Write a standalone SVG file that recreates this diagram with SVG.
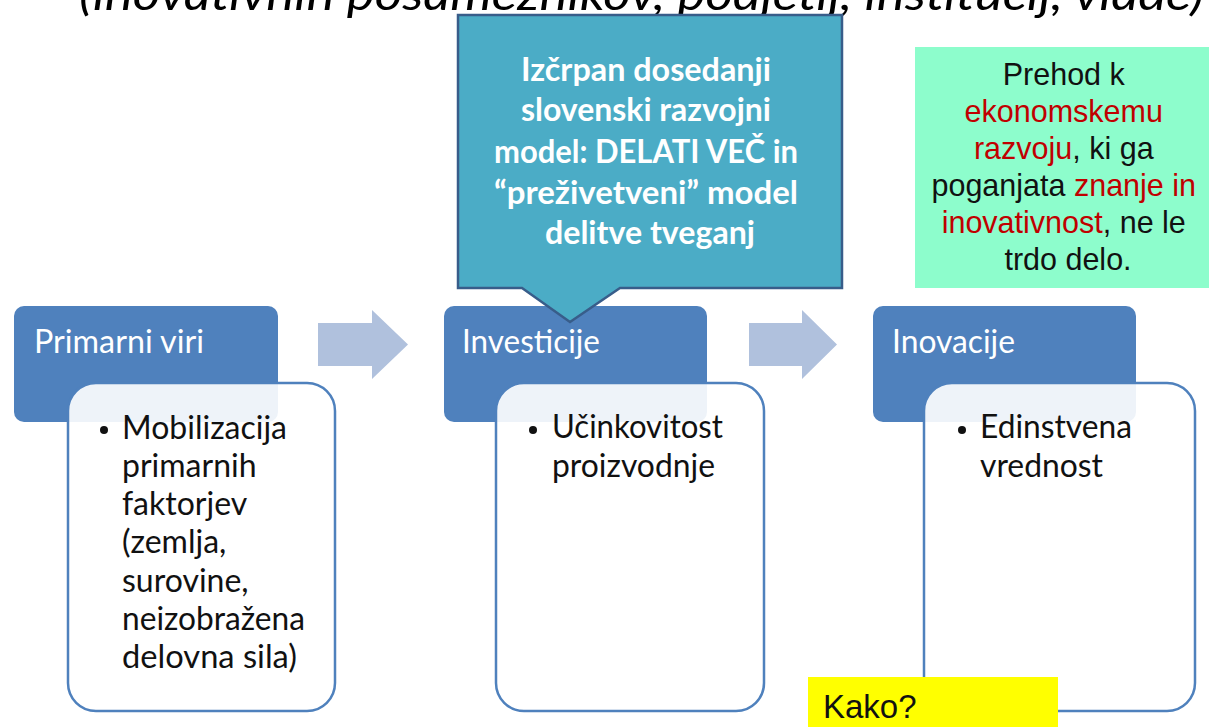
<svg xmlns="http://www.w3.org/2000/svg" width="1209" height="727" viewBox="0 0 1209 727">
<style>
.hdr{fill:#4F81BD}
.inner{fill:#FFFFFF;fill-opacity:0.9;stroke:#4F81BD;stroke-width:2.5}
.htxt{font-family:Lato,"Liberation Sans",sans-serif;font-size:32px;fill:#FFFFFF}
.btxt{font-family:Lato,"Liberation Sans",sans-serif;font-size:32px;fill:#111111}
.ctxt{font-family:Lato,"Liberation Sans",sans-serif;font-size:33px;font-weight:bold;fill:#FFFFFF;text-anchor:middle}
.gtxt{font-family:"Liberation Sans",Arial,sans-serif;font-size:30.5px;fill:#111111;text-anchor:middle}
.red{fill:#C00000}
.arrow{fill:#B0C1DD}
</style>
<rect width="1209" height="727" fill="#FFFFFF"/>
<text x="79" y="10" font-family="Lato,'Liberation Sans',sans-serif" font-size="44" font-style="italic" fill="#000000" textLength="1125" lengthAdjust="spacingAndGlyphs">(inovativnih posameznikov, podjetij, institucij, vlade)</text>

<g id="connectors">
<path class="arrow" d="M318,323 H372 V310 L408,344.5 L372,379 V366 H318 Z"/>
<path class="arrow" d="M749,323 H802 V310 L837,344.5 L802,379 V366 H749 Z"/>
</g>

<g id="node-primarni">
<rect class="hdr" x="14" y="306" width="264" height="116" rx="10"/>
<text class="htxt" x="34" y="353" textLength="170" lengthAdjust="spacingAndGlyphs">Primarni viri</text>
<rect class="inner" x="68" y="383" width="267" height="328" rx="28"/>
<circle cx="104" cy="430" r="4" fill="#111111"/>
<text class="btxt">
<tspan x="122" y="439" textLength="165" lengthAdjust="spacingAndGlyphs">Mobilizacija</tspan>
<tspan x="122" y="477">primarnih</tspan>
<tspan x="122" y="515">faktorjev</tspan>
<tspan x="122" y="553">(zemlja,</tspan>
<tspan x="122" y="592">surovine,</tspan>
<tspan x="122" y="630" textLength="183" lengthAdjust="spacingAndGlyphs">neizobražena</tspan>
<tspan x="122" y="668" textLength="175" lengthAdjust="spacingAndGlyphs">delovna sila)</tspan>
</text>
</g>

<g id="node-investicije">
<rect class="hdr" x="444" y="306" width="263" height="116" rx="10"/>
<text class="htxt" x="462" y="353" textLength="138" lengthAdjust="spacingAndGlyphs">Investicije</text>
<rect class="inner" x="496" y="383" width="268" height="328" rx="28"/>
<circle cx="533" cy="430" r="4" fill="#111111"/>
<text class="btxt">
<tspan x="552" y="438" textLength="171" lengthAdjust="spacingAndGlyphs">Učinkovitost</tspan>
<tspan x="552" y="477" textLength="163" lengthAdjust="spacingAndGlyphs">proizvodnje</tspan>
</text>
</g>

<g id="node-inovacije">
<rect class="hdr" x="873" y="306" width="263" height="116" rx="10"/>
<text class="htxt" x="892" y="353" textLength="123" lengthAdjust="spacingAndGlyphs">Inovacije</text>
<rect class="inner" x="924" y="383" width="271" height="328" rx="28"/>
<circle cx="962" cy="430" r="4" fill="#111111"/>
<text class="btxt">
<tspan x="980" y="438" textLength="152" lengthAdjust="spacingAndGlyphs">Edinstvena</tspan>
<tspan x="980" y="477" textLength="123" lengthAdjust="spacingAndGlyphs">vrednost</tspan>
</text>
</g>

<g id="node-callout">
<path d="M458,15 H842 V288 H620 L570,322 L522,288 H458 Z" fill="#4BACC6" stroke="#385D8A" stroke-width="2.5" stroke-linejoin="miter"/>
<text class="ctxt">
<tspan x="650" y="81" textLength="250" lengthAdjust="spacingAndGlyphs">Izčrpan dosedanji</tspan>
<tspan x="650" y="121" textLength="250" lengthAdjust="spacingAndGlyphs">slovenski razvojni</tspan>
<tspan x="650" y="163" textLength="304" lengthAdjust="spacingAndGlyphs">model: DELATI VEČ in</tspan>
<tspan x="650" y="204" textLength="304" lengthAdjust="spacingAndGlyphs">“preživetveni” model</tspan>
<tspan x="650" y="244" textLength="210" lengthAdjust="spacingAndGlyphs">delitve tveganj</tspan>
</text>
</g>

<g id="node-prehod">
<rect x="915" y="47" width="300" height="241" fill="#8DFDCC"/>
<text class="gtxt">
<tspan x="1068" y="85">Prehod k</tspan>
<tspan x="1068" y="122" class="red">ekonomskemu</tspan>
<tspan x="1068" y="159"><tspan class="red">razvoju</tspan>, ki ga</tspan>
<tspan x="1068" y="196">poganjata <tspan class="red">znanje in</tspan></tspan>
<tspan x="1068" y="233"><tspan class="red">inovativnost</tspan>, ne le</tspan>
<tspan x="1068" y="270">trdo delo.</tspan>
</text>
</g>

<g id="node-kako">
<rect x="808" y="677" width="250" height="55" fill="#FFFF00"/>
<text x="823" y="718" font-family="'Liberation Sans',Arial,sans-serif" font-size="33" fill="#111111">Kako?</text>
</g>
</svg>
